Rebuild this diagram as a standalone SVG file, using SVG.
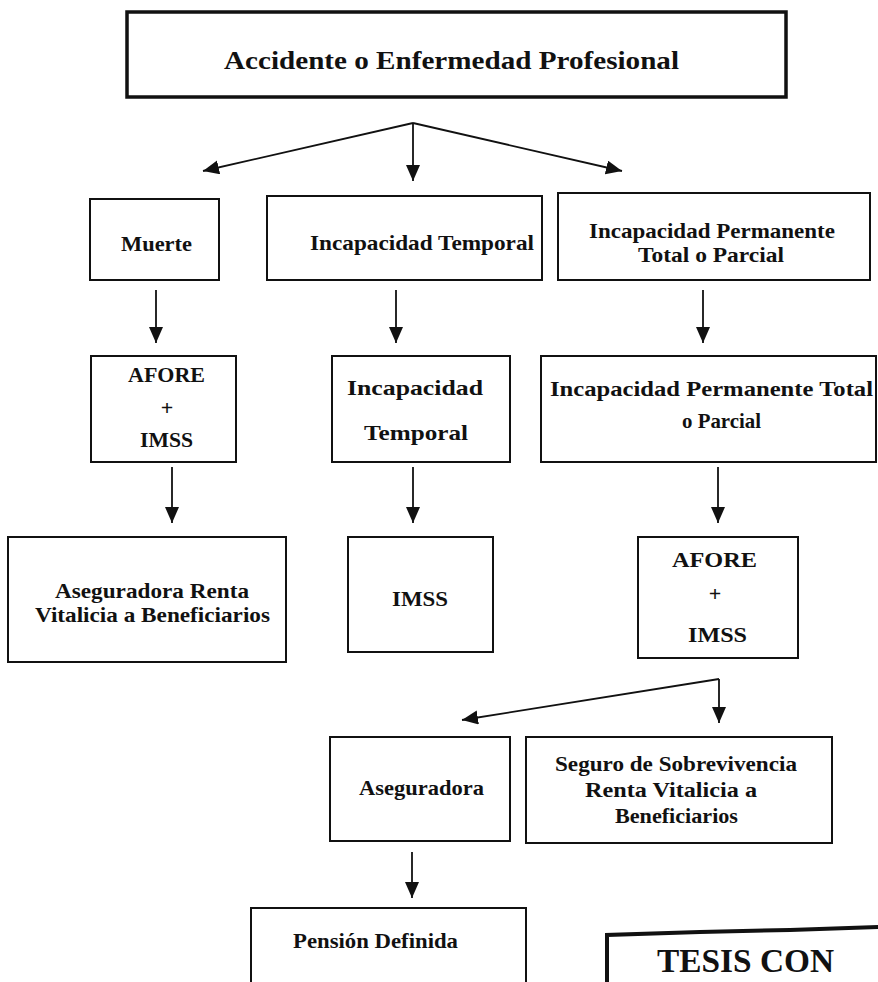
<svg xmlns="http://www.w3.org/2000/svg" width="878" height="982" viewBox="0 0 878 982">
<style>
.box{fill:#fff;stroke:#111;stroke-width:2}
.t{font-family:"Liberation Serif","Times New Roman",serif;font-weight:bold;fill:#111;font-size:21px}
.c{stroke:#111;stroke-width:1.8;fill:none}
</style>
<defs>
<marker id="ah" markerUnits="userSpaceOnUse" markerWidth="17" markerHeight="15" refX="16" refY="7" orient="auto">
<path d="M0,0 L16,7 L0,14 z" fill="#111"/>
</marker>
</defs>
<rect width="878" height="982" fill="#fff"/>
<g id="connectors">
<line class="c" x1="413" y1="123" x2="203" y2="171" marker-end="url(#ah)"/>
<line class="c" x1="413" y1="123" x2="413" y2="181" marker-end="url(#ah)"/>
<line class="c" x1="413" y1="123" x2="622" y2="171" marker-end="url(#ah)"/>
<line class="c" x1="156" y1="290" x2="156" y2="343" marker-end="url(#ah)"/>
<line class="c" x1="396" y1="290" x2="396" y2="343" marker-end="url(#ah)"/>
<line class="c" x1="703" y1="290" x2="703" y2="343" marker-end="url(#ah)"/>
<line class="c" x1="172" y1="467" x2="172" y2="523" marker-end="url(#ah)"/>
<line class="c" x1="413" y1="467" x2="413" y2="523" marker-end="url(#ah)"/>
<line class="c" x1="718" y1="467" x2="718" y2="523" marker-end="url(#ah)"/>
<line class="c" x1="719" y1="679" x2="719" y2="723" marker-end="url(#ah)"/>
<line class="c" x1="719" y1="679" x2="462" y2="720" marker-end="url(#ah)"/>
<line class="c" x1="412" y1="852" x2="412" y2="898" marker-end="url(#ah)"/>
</g>
<g id="n-accidente">
<rect x="127" y="12" width="659" height="85" fill="#fff" stroke="#111" stroke-width="3.5"/>
<text class="t" x="224" y="69" style="font-size:26px" textLength="455" lengthAdjust="spacingAndGlyphs">Accidente o Enfermedad Profesional</text>
</g>
<g id="n-muerte">
<rect class="box" x="90" y="199" width="129" height="81"/>
<text class="t" x="121" y="251" textLength="71" lengthAdjust="spacingAndGlyphs">Muerte</text>
</g>
<g id="n-inctemp">
<rect class="box" x="267" y="196" width="275" height="84"/>
<text class="t" x="310" y="250" textLength="224" lengthAdjust="spacingAndGlyphs">Incapacidad Temporal</text>
</g>
<g id="n-incperm">
<rect class="box" x="558" y="193" width="312" height="87"/>
<text class="t" x="589" y="238" textLength="246" lengthAdjust="spacingAndGlyphs">Incapacidad Permanente</text>
<text class="t" x="638" y="262" textLength="146" lengthAdjust="spacingAndGlyphs">Total o Parcial</text>
</g>
<g id="n-afore1">
<rect class="box" x="91" y="356" width="145" height="106"/>
<text class="t" x="128" y="382" style="font-size:22px" textLength="77" lengthAdjust="spacingAndGlyphs">AFORE</text>
<text class="t" x="167" y="415" style="font-size:22px" text-anchor="middle">+</text>
<text class="t" x="140" y="447" style="font-size:22px" textLength="53" lengthAdjust="spacingAndGlyphs">IMSS</text>
</g>
<g id="n-inctemp2">
<rect class="box" x="332" y="356" width="178" height="106"/>
<text class="t" x="347" y="395" style="font-size:22px" textLength="136" lengthAdjust="spacingAndGlyphs">Incapacidad</text>
<text class="t" x="364" y="440" style="font-size:22px" textLength="104" lengthAdjust="spacingAndGlyphs">Temporal</text>
</g>
<g id="n-incperm2">
<rect class="box" x="541" y="356" width="335" height="106"/>
<text class="t" x="550" y="396" style="font-size:22px" textLength="323" lengthAdjust="spacingAndGlyphs">Incapacidad Permanente Total</text>
<text class="t" x="682" y="428" style="font-size:22px" textLength="79" lengthAdjust="spacingAndGlyphs">o Parcial</text>
</g>
<g id="n-asegrenta">
<rect class="box" x="8" y="537" width="278" height="125"/>
<text class="t" x="55" y="598" style="font-size:22px" textLength="194" lengthAdjust="spacingAndGlyphs">Aseguradora Renta</text>
<text class="t" x="35" y="622" style="font-size:22px" textLength="235" lengthAdjust="spacingAndGlyphs">Vitalicia a Beneficiarios</text>
</g>
<g id="n-imss">
<rect class="box" x="348" y="537" width="145" height="115"/>
<text class="t" x="392" y="606" style="font-size:22px" textLength="56" lengthAdjust="spacingAndGlyphs">IMSS</text>
</g>
<g id="n-afore2">
<rect class="box" x="638" y="537" width="160" height="121"/>
<text class="t" x="672" y="567" style="font-size:22px" textLength="85" lengthAdjust="spacingAndGlyphs">AFORE</text>
<text class="t" x="715" y="601" style="font-size:22px" text-anchor="middle">+</text>
<text class="t" x="688" y="642" style="font-size:22px" textLength="59" lengthAdjust="spacingAndGlyphs">IMSS</text>
</g>
<g id="n-aseguradora">
<rect class="box" x="330" y="737" width="180" height="104"/>
<text class="t" x="359" y="795" style="font-size:22px" textLength="125" lengthAdjust="spacingAndGlyphs">Aseguradora</text>
</g>
<g id="n-sobrevivencia">
<rect class="box" x="526" y="737" width="306" height="106"/>
<text class="t" x="555" y="771" style="font-size:22px" textLength="242" lengthAdjust="spacingAndGlyphs">Seguro de Sobrevivencia</text>
<text class="t" x="585" y="797" style="font-size:22px" textLength="172" lengthAdjust="spacingAndGlyphs">Renta Vitalicia a</text>
<text class="t" x="615" y="823" style="font-size:22px" textLength="123" lengthAdjust="spacingAndGlyphs">Beneficiarios</text>
</g>
<g id="n-pension">
<rect class="box" x="251" y="908" width="275" height="90"/>
<text class="t" x="293" y="948" style="font-size:21px" textLength="165" lengthAdjust="spacingAndGlyphs">Pensión Definida</text>
</g>
<g id="n-tesis">
<path d="M607,1000 L607,935 L700,932 L790,930 L880,927" fill="none" stroke="#111" stroke-width="4"/>
<text class="t" x="657" y="972" style="font-size:34px" textLength="177" lengthAdjust="spacingAndGlyphs">TESIS CON</text>
</g>
</svg>
